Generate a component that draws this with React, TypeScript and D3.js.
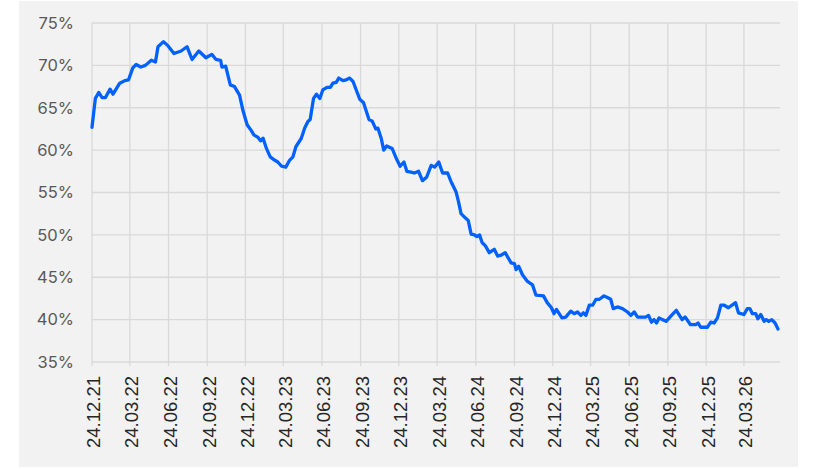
import React from 'react';
import * as d3 from 'd3';

// weekly-ish readings (dd.mm.yy) and share in percent
const dates = [
  '24.12.21', '01.01.22', '09.01.22', '17.01.22', '25.01.22', '05.02.22', '12.02.22', '28.02.22',
  '12.03.22', '21.03.22', '31.03.22', '08.04.22', '19.04.22', '30.04.22', '14.05.22', '24.05.22',
  '30.05.22', '12.06.22', '23.06.22', '07.07.22', '24.07.22', '07.08.22', '19.08.22', '04.09.22',
  '21.09.22', '05.10.22', '15.10.22', '26.10.22', '29.10.22', '07.11.22', '18.11.22', '28.11.22',
  '10.12.22', '18.12.22', '28.12.22', '07.01.23', '13.01.23', '23.01.23', '29.01.23', '04.02.23',
  '12.02.23', '21.02.23', '04.03.23', '11.03.23', '20.03.23', '30.03.23', '08.04.23', '16.04.23',
  '23.04.23', '06.05.23', '14.05.23', '22.05.23', '27.05.23', '04.06.23', '11.06.23', '19.06.23',
  '26.06.23', '06.07.23', '14.07.23', '20.07.23', '28.07.23', '03.08.23', '13.08.23', '21.08.23',
  '29.08.23', '06.09.23', '22.09.23', '01.10.23', '14.10.23', '22.10.23', '30.10.23', '04.11.23',
  '12.11.23', '18.11.23', '25.11.23', '08.12.23', '18.12.23', '27.12.23', '05.01.24', '12.01.24',
  '22.01.24', '30.01.24', '09.02.24', '18.02.24', '28.02.24', '10.03.24', '18.03.24', '28.03.24',
  '06.04.24', '18.04.24', '26.04.24', '08.05.24', '14.05.24', '20.05.24', '28.05.24', '06.06.24',
  '13.06.24', '21.06.24', '26.06.24', '03.07.24', '09.07.24', '17.07.24', '26.07.24', '07.08.24',
  '15.08.24', '23.08.24', '02.09.24', '16.09.24', '24.09.24', '28.09.24', '04.10.24', '13.10.24',
  '25.10.24', '06.11.24', '14.11.24', '02.12.24', '11.12.24', '21.12.24', '27.12.24', '02.01.25',
  '15.01.25', '24.01.25', '05.02.25', '13.02.25', '21.02.25', '01.03.25', '07.03.25', '13.03.25',
  '21.03.25', '29.03.25', '06.04.25', '14.04.25', '25.04.25', '03.05.25', '11.05.25', '17.05.25',
  '27.05.25', '08.06.25', '20.06.25', '28.06.25', '06.07.25', '14.07.25', '02.08.25', '09.08.25',
  '16.08.25', '22.08.25', '28.08.25', '03.09.25', '11.09.25', '20.09.25', '01.10.25', '14.10.25',
  '28.10.25', '04.11.25', '17.11.25', '29.11.25', '05.12.25', '11.12.25', '27.12.25', '04.01.26',
  '12.01.26', '20.01.26', '28.01.26', '05.02.26', '15.02.26', '04.03.26', '11.03.26', '24.03.26',
  '01.04.26', '07.04.26', '13.04.26', '21.04.26', '26.04.26', '03.05.26', '11.05.26', '16.05.26',
  '22.05.26', '29.05.26', '06.06.26', '13.06.26',
];

const shares = [
  62.7, 66.1, 66.8, 66.2, 66.2, 67.2, 66.6, 67.9,
  68.2, 68.3, 69.7, 70.1, 69.8, 70.0, 70.6, 70.4,
  72.2, 72.8, 72.3, 71.4, 71.7, 72.2, 70.7, 71.7,
  70.9, 71.3, 70.7, 70.6, 69.8, 69.9, 67.7, 67.5,
  66.5, 64.7, 63.0, 62.3, 61.8, 61.5, 61.1, 61.4,
  60.2, 59.2, 58.8, 58.6, 58.1, 58.0, 58.8, 59.2,
  60.4, 61.4, 62.6, 63.4, 63.6, 66.1, 66.6, 66.1,
  67.1, 67.4, 67.4, 67.9, 68.0, 68.5, 68.2, 68.3,
  68.5, 68.1, 66.0, 65.6, 63.6, 63.4, 62.5, 62.6,
  61.4, 60.0, 60.5, 60.2, 59.0, 58.1, 58.6, 57.5,
  57.4, 57.3, 57.5, 56.4, 56.8, 58.2, 58.0, 58.6,
  57.3, 57.3, 56.3, 55.1, 53.9, 52.5, 52.1, 51.7,
  50.1, 50.0, 49.8, 50.0, 49.1, 48.7, 47.9, 48.3,
  47.5, 47.6, 47.9, 46.7, 46.6, 45.9, 46.3, 45.3,
  44.5, 44.1, 42.9, 42.8, 42.0, 41.4, 40.7, 41.2,
  40.2, 40.3, 41.0, 40.7, 40.9, 40.5, 40.8, 40.5,
  41.7, 41.7, 42.4, 42.4, 42.8, 42.6, 42.4, 41.3,
  41.5, 41.3, 40.9, 40.5, 40.9, 40.3, 40.3, 40.5,
  39.7, 40.0, 39.6, 40.2, 40.0, 39.8, 40.4, 41.1,
  40.0, 40.3, 39.4, 39.4, 39.6, 39.1, 39.1, 39.7,
  39.6, 40.2, 41.7, 41.7, 41.4, 42.0, 40.8, 40.6,
  41.3, 41.3, 40.7, 40.7, 40.1, 40.6, 39.8, 40.0,
  39.8, 40.0, 39.6, 38.9,
];

const xTicks = [
  '24.12.21', '24.03.22', '24.06.22', '24.09.22', '24.12.22', '24.03.23', '24.06.23', '24.09.23',
  '24.12.23', '24.03.24', '24.06.24', '24.09.24', '24.12.24', '24.03.25', '24.06.25', '24.09.25',
  '24.12.25', '24.03.26',
];
const yTicks = [35, 40, 45, 50, 55, 60, 65, 70, 75];

const W = 813;
const H = 469;
const margin = { left: 92, right: 35, top: 23, bottom: 107 };

const parse = d3.timeParse('%d.%m.%y');

export default function App() {
  const points = dates.map((d, i) => ({ date: parse(d) as Date, value: shares[i] }));

  const x = d3
    .scaleTime()
    .domain([points[0].date, points[points.length - 1].date])
    .range([margin.left, W - margin.right]);
  const y = d3.scaleLinear().domain([35, 75]).range([H - margin.bottom, margin.top]);

  const line = d3
    .line<{ date: Date; value: number }>()
    .x(d => x(d.date))
    .y(d => y(d.value));

  const x0 = margin.left;
  const x1 = W - margin.right;
  const yBottom = y(35);

  return (
    <svg width={W} height={H} style={{ position: 'absolute', left: 0, top: 0 }}>
      <rect x={19} y={1} width={779} height={466} fill="#f2f2f2" />

      {/* horizontal grid */}
      {yTicks.map(t => (
        <line key={'h' + t} x1={x0} x2={x1 + 2} y1={y(t)} y2={y(t)} stroke="#d9d9d9" strokeWidth={1.3} />
      ))}

      {/* vertical grid with tick marks */}
      {xTicks.map(t => {
        const xx = x(parse(t) as Date);
        return (
          <line key={'v' + t} x1={xx} x2={xx} y1={margin.top} y2={yBottom + 4} stroke="#d9d9d9" strokeWidth={1.3} />
        );
      })}

      {/* y labels */}
      {yTicks.map(t => (
        <text
          key={'yl' + t}
          x={74}
          y={y(t)}
          dy="0.35em"
          textAnchor="end"
          fontFamily="Inter, 'Open Sans', sans-serif"
          fontSize={16.5}
          fill="#595959"
        >
          {t}%
        </text>
      ))}

      {/* x labels */}
      {xTicks.map(t => {
        const xx = x(parse(t) as Date);
        return (
          <text
            key={'xl' + t}
            transform={`translate(${xx + 2},${yBottom + 14}) rotate(-90)`}
            dy="0.35em"
            textAnchor="end"
            fontFamily="'Liberation Sans', Arial, sans-serif"
            fontSize={18.5}
            fill="#262626"
          >
            {t}
          </text>
        );
      })}

      <path
        d={line(points) || ''}
        fill="none"
        stroke="#0061ff"
        strokeWidth={3.3}
        strokeLinejoin="round"
        strokeLinecap="round"
      />
    </svg>
  );
}
